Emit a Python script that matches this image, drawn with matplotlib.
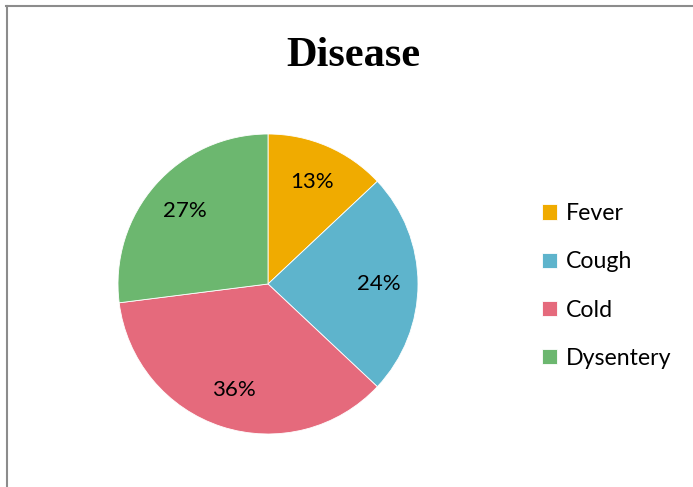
import matplotlib.pyplot as plt
from matplotlib.lines import Line2D

labels = ['Fever', 'Cough', 'Cold', 'Dysentery']
shares = [13, 24, 36, 27]
colors = ['#F0AB00', '#5EB4CC', '#E56A7C', '#6CB76F']

W, H = 693, 487
fig = plt.figure(figsize=(W / 100, H / 100), dpi=100)

# pie centre (268, 284) px, radius 150 px
cx, cy, r = 268, 284, 150
ax = fig.add_axes([(cx - r) / W, (H - cy - r) / H, 2 * r / W, 2 * r / H])
wedges, texts, autotexts = ax.pie(
    shares, colors=colors, startangle=90, counterclock=False,
    autopct='%1.0f%%', pctdistance=0.74,
    wedgeprops=dict(edgecolor='white', linewidth=0.6),
    textprops=dict(fontsize=16, family='Lato', color='black'))
ax.set_xlim(-1, 1)
ax.set_ylim(-1, 1)

fig.text(353 / W, 1 - 66 / H, 'Disease', ha='center', va='baseline',
         fontsize=30.5, fontweight='bold', family='Liberation Serif')

leg = fig.legend(wedges, labels, loc='upper left',
                 bbox_to_anchor=(533 / W, 1 - 194 / H), frameon=False,
                 prop=dict(family='Lato', size=16.7), handlelength=0.65,
                 handleheight=0.65, handletextpad=0.35, labelspacing=1.17,
                 borderaxespad=0)

# chart area border (top and left only visible)
bc = '#8C8C8C'
fig.add_artist(Line2D([6 / W, 1], [1 - 5.5 / H, 1 - 5.5 / H], color=bc, lw=1.5,
                      transform=fig.transFigure))
fig.add_artist(Line2D([6.5 / W, 6.5 / W], [0, 1 - 5.5 / H], color=bc, lw=1.5,
                      transform=fig.transFigure))

fig.savefig('out.png', dpi=100)
